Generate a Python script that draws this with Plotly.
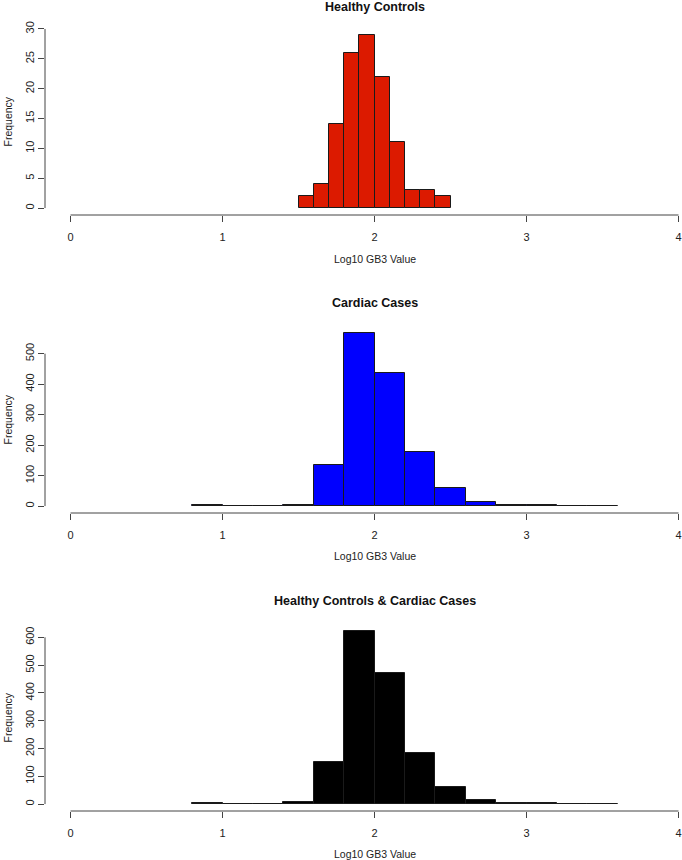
import plotly.graph_objects as go

# ---- data ----
hc_edges = [1.5, 1.6, 1.7, 1.8, 1.9, 2.0, 2.1, 2.2, 2.3, 2.4, 2.5]
hc_counts = [2, 4, 14, 26, 29, 22, 11, 3, 3, 2]

cc_edges = [0.8, 1.0, 1.2, 1.4, 1.6, 1.8, 2.0, 2.2, 2.4, 2.6, 2.8, 3.0, 3.2, 3.4, 3.6]
cc_counts = [3, 1, 1, 5, 135, 568, 437, 177, 60, 15, 3, 3, 0, 1]

all_edges = [0.8, 1.0, 1.2, 1.4, 1.6, 1.8, 2.0, 2.2, 2.4, 2.6, 2.8, 3.0, 3.2, 3.4, 3.6]
all_counts = [3, 1, 1, 7, 153, 623, 470, 183, 62, 15, 3, 3, 0, 1]

titles = ["Healthy Controls", "Cardiac Cases", "Healthy Controls & Cardiac Cases"]
colors = ["#DC1A00", "#0000FF", "#000000"]
x_ticks = [0, 1, 2, 3, 4]
y_ticks = [[0, 5, 10, 15, 20, 25, 30],
           [0, 100, 200, 300, 400, 500],
           [0, 100, 200, 300, 400, 500, 600]]
x_title = "Log10 GB3 Value"
y_title = "Frequency"

W, H = 682, 860
# plot regions in pixels (top, bottom)
regions = [(28, 215), (326, 513), (624, 811)]
left_px = 45

FONT = "Liberation Sans, Arial, Helvetica, sans-serif"
AX = "#444444"

fig = go.Figure()
datasets = [(hc_edges, hc_counts), (cc_edges, cc_counts), (all_edges, all_counts)]

layout = dict(
    width=W, height=H,
    margin=dict(l=0, r=0, t=0, b=0),
    paper_bgcolor="white", plot_bgcolor="white",
    showlegend=False,
    bargap=0,
    font=dict(family=FONT, size=11, color="#222"),
)
shapes = []
annotations = []

for i, ((edges, counts), title, col, yt) in enumerate(zip(datasets, titles, colors, y_ticks)):
    n = i + 1
    xa = "x" if n == 1 else f"x{n}"
    ya = "y" if n == 1 else f"y{n}"
    centers = [(a + b) / 2 for a, b in zip(edges[:-1], edges[1:])]
    widths = [b - a for a, b in zip(edges[:-1], edges[1:])]
    fig.add_trace(go.Bar(
        x=centers, y=counts, width=widths,
        marker=dict(color=col, line=dict(color="#1a1a1a", width=1)),
        xaxis=xa, yaxis=ya, hoverinfo="x+y",
    ))
    top, bot = regions[i]
    ymax = max(counts)
    ydom = [(H - bot) / H, (H - top) / H]
    xdom = [left_px / W, 1.0]
    # x range: 0 at 70.5px, 4 at 678.5px
    ppu = (678.5 - 70.5) / 4
    xr = [(left_px - 70.5) / ppu, (W - 70.5) / ppu]
    key = "" if n == 1 else str(n)
    layout["xaxis" + key] = dict(
        domain=xdom, range=xr, anchor=ya, showgrid=False, zeroline=False,
        showline=False, tickvals=x_ticks, ticks="outside", ticklen=6,
        tickcolor=AX, tickwidth=1, tickfont=dict(size=11, color="#222"),
        ticklabelstandoff=6, automargin=False, fixedrange=True,
    )
    layout["yaxis" + key] = dict(
        domain=ydom, range=[-0.04 * ymax, 1.04 * ymax], anchor=xa,
        showgrid=False, zeroline=False, showline=False, tickvals=yt,
        ticks="outside", ticklen=6, tickcolor=AX, tickwidth=1,
        tickangle=-90, tickfont=dict(size=11, color="#222"),
        automargin=False, fixedrange=True,
    )
    # R-style axis lines spanning only the tick range
    shapes.append(dict(type="line", xref=xa, yref=f"{ya} domain",
                       x0=x_ticks[0], x1=x_ticks[-1], y0=0, y1=0,
                       line=dict(color=AX, width=1)))
    shapes.append(dict(type="line", xref=f"{xa} domain", yref=ya,
                       x0=0, x1=0, y0=yt[0], y1=yt[-1],
                       line=dict(color=AX, width=1)))
    # titles
    title_y = {0: 7, 1: 303, 2: 601}[i]
    annotations.append(dict(text=f"<b>{title}</b>", xref=xa, x=2,
                            yref="paper", y=1 - title_y / H, yanchor="middle",
                            showarrow=False, font=dict(size=12.5, color="#111")))
    xt_y = {0: 259, 1: 556, 2: 854}[i]
    annotations.append(dict(text=x_title, xref=xa, x=2, yref="paper",
                            y=1 - xt_y / H, yanchor="middle", showarrow=False,
                            font=dict(size=10.5, color="#222")))
    annotations.append(dict(text=y_title, xref="paper", x=7 / W, xanchor="center",
                            yref="paper", y=1 - ((top + bot) / 2) / H,
                            yanchor="middle", textangle=-90, showarrow=False,
                            font=dict(size=10.5, color="#222")))

layout["shapes"] = shapes
layout["annotations"] = annotations
fig.update_layout(**layout)
fig.write_html("out.html", config={"displayModeBar": False},
               post_script="document.body.style.margin='0';document.body.style.padding='0';")
